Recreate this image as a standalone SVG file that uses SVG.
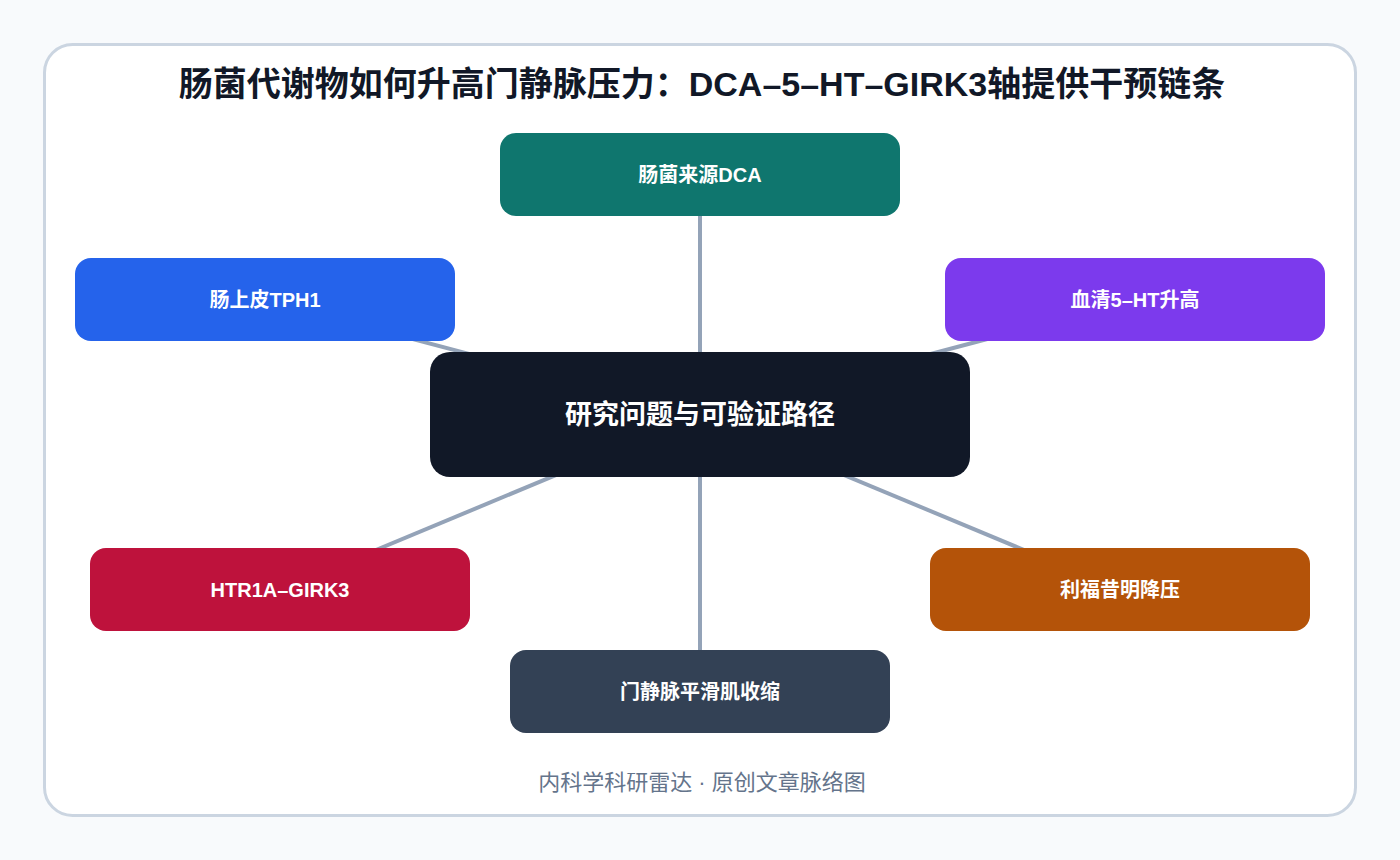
<svg xmlns="http://www.w3.org/2000/svg" width="1400" height="860" viewBox="0 0 1400 860">
<style>
.title{font-family:"Liberation Sans","Noto Sans CJK SC",sans-serif;font-size:34px;font-weight:700;fill:#111827;text-anchor:middle;dominant-baseline:central}
.lbl{font-family:"Liberation Sans","Noto Sans CJK SC",sans-serif;font-size:20px;font-weight:700;fill:#ffffff;text-anchor:middle;dominant-baseline:central}
.clbl{font-family:"Liberation Sans","Noto Sans CJK SC",sans-serif;font-size:27px;font-weight:700;fill:#ffffff;text-anchor:middle;dominant-baseline:central}
.foot{font-family:"Liberation Sans","Noto Sans CJK SC",sans-serif;font-size:22px;fill:#64748b;text-anchor:middle;dominant-baseline:central}
.edge{stroke:#94a3b8;stroke-width:4;fill:none}
</style>
<rect x="0" y="0" width="1400" height="860" fill="#f8fafc"/>
<rect x="44.5" y="44.5" width="1311" height="771" rx="28" fill="#ffffff" stroke="#cbd5e1" stroke-width="3"/>
<text class="title" x="702" y="84">肠菌代谢物如何升高门静脉压力：DCA–5–HT–GIRK3轴提供干预链条</text>
<g id="connectors">
<line class="edge" x1="700" y1="415" x2="700" y2="175"/>
<line class="edge" x1="700" y1="415" x2="265" y2="300"/>
<line class="edge" x1="700" y1="415" x2="1135" y2="300"/>
<line class="edge" x1="700" y1="415" x2="280" y2="590"/>
<line class="edge" x1="700" y1="415" x2="1120" y2="590"/>
<line class="edge" x1="700" y1="415" x2="700" y2="692"/>
</g>
<g id="center">
<rect x="430" y="352" width="540" height="125" rx="20" fill="#111827"/>
<text class="clbl" x="700" y="415">研究问题与可验证路径</text>
</g>
<g id="dca">
<rect x="500" y="133" width="400" height="83" rx="16" fill="#0f766e"/>
<text class="lbl" x="700" y="175">肠菌来源DCA</text>
</g>
<g id="tph1">
<rect x="75" y="258" width="380" height="83" rx="16" fill="#2563eb"/>
<text class="lbl" x="265" y="300">肠上皮TPH1</text>
</g>
<g id="serum5ht">
<rect x="945" y="258" width="380" height="83" rx="16" fill="#7c3aed"/>
<text class="lbl" x="1135" y="300">血清5–HT升高</text>
</g>
<g id="htr1a">
<rect x="90" y="548" width="380" height="83" rx="16" fill="#be123c"/>
<text class="lbl" x="280" y="590">HTR1A–GIRK3</text>
</g>
<g id="rifaximin">
<rect x="930" y="548" width="380" height="83" rx="16" fill="#b45309"/>
<text class="lbl" x="1120" y="590">利福昔明降压</text>
</g>
<g id="smooth">
<rect x="510" y="650" width="380" height="83" rx="16" fill="#334155"/>
<text class="lbl" x="700" y="692">门静脉平滑肌收缩</text>
</g>
<text class="foot" x="702" y="782">内科学科研雷达 · 原创文章脉络图</text>
</svg>
